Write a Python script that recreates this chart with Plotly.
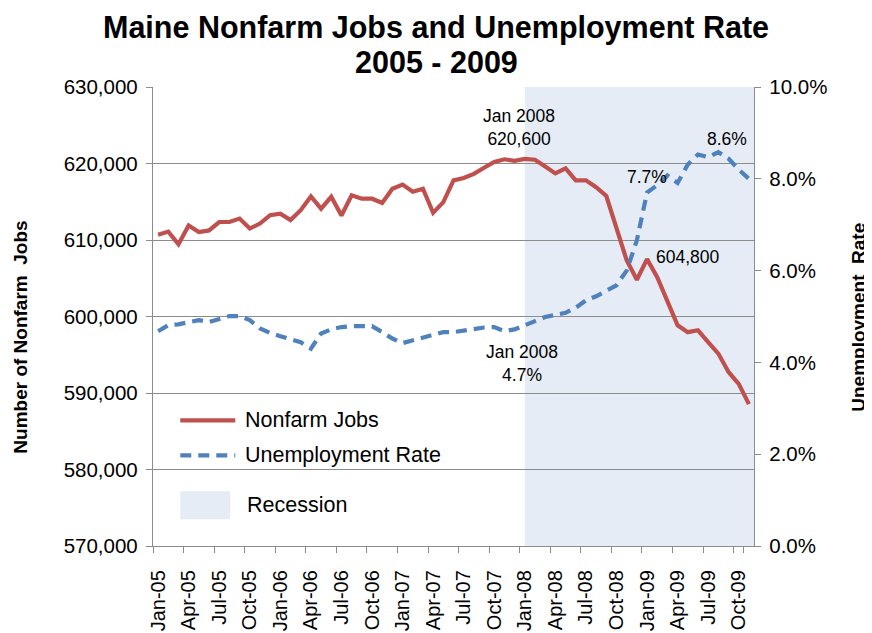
import plotly.graph_objects as go

months = ["Jan-05","Feb-05","Mar-05","Apr-05","May-05","Jun-05","Jul-05","Aug-05","Sep-05","Oct-05","Nov-05","Dec-05",
          "Jan-06","Feb-06","Mar-06","Apr-06","May-06","Jun-06","Jul-06","Aug-06","Sep-06","Oct-06","Nov-06","Dec-06",
          "Jan-07","Feb-07","Mar-07","Apr-07","May-07","Jun-07","Jul-07","Aug-07","Sep-07","Oct-07","Nov-07","Dec-07",
          "Jan-08","Feb-08","Mar-08","Apr-08","May-08","Jun-08","Jul-08","Aug-08","Sep-08","Oct-08","Nov-08","Dec-08",
          "Jan-09","Feb-09","Mar-09","Apr-09","May-09","Jun-09","Jul-09","Aug-09","Sep-09","Oct-09","Nov-09"]

nonfarm_jobs = [610700, 611100, 609450, 611900, 611050, 611250, 612350, 612350, 612800, 611500, 612150, 613250,
                613450, 612600, 613900, 615700, 614100, 615650, 613200, 615850, 615400, 615400, 614850, 616700,
                617250, 616300, 616700, 613550, 614950, 617800, 618100, 618650, 619450, 620200, 620550, 620350,
                620600, 620500, 619600, 618700, 619350, 617800, 617800, 616900, 615750, 611700, 607350, 604800,
                607500, 605150, 602100, 598850, 597950, 598200, 596650, 595150, 592750, 591200, 588550]

unemployment_rate = [4.68, 4.81, 4.83, 4.88, 4.92, 4.88, 4.95, 5.01, 5.01, 4.92, 4.74, 4.64,
                     4.57, 4.50, 4.44, 4.30, 4.63, 4.72, 4.77, 4.79, 4.79, 4.79, 4.66, 4.52,
                     4.42, 4.48, 4.55, 4.61, 4.66, 4.66, 4.70, 4.73, 4.76, 4.77, 4.68, 4.72,
                     4.82, 4.90, 4.99, 5.04, 5.08, 5.19, 5.35, 5.44, 5.55, 5.68, 6.00, 6.66,
                     7.70, 7.86, 8.07, 7.91, 8.31, 8.53, 8.47, 8.58, 8.44, 8.20, 8.00]

tick_labels = months[::3]
recession_start = "Jan-08"

RED = "#C0504D"
BLUE = "#4F81BD"
SHADE = "#E6ECF5"
GRID = "#8C8C8C"
FONT = "Liberation Sans, Arial, sans-serif"

PAGE_W, PAGE_H, OFF = 872, 633, 8          # page body margin offsets the figure by 8px
W, H = PAGE_W - OFF, PAGE_H - OFF
L, R, T, B = 152.7, 754.0, 86.7, 545.7      # plot area in page pixels

def px(x):
    return (x - L) / (R - L)

def py(y):
    return (B - y) / (B - T)

fig = go.Figure()
fig.add_trace(go.Scatter(x=months, y=nonfarm_jobs, mode="lines", name="Nonfarm Jobs",
                         line=dict(color=RED, width=4.2), yaxis="y"))
fig.add_trace(go.Scatter(x=months, y=unemployment_rate, mode="lines", name="Unemployment Rate",
                         line=dict(color=BLUE, width=4.2, dash="11px,7px"), yaxis="y2"))

rs = months.index(recession_start)
fig.add_shape(type="rect", xref="x", yref="paper", x0=rs, x1=len(months) - 0.5, y0=0, y1=1,
              fillcolor=SHADE, line=dict(width=0), layer="below")

# manual legend
fig.add_shape(type="line", xref="paper", yref="paper", x0=px(180), x1=px(235), y0=py(420), y1=py(420),
              line=dict(color=RED, width=4.2))
fig.add_shape(type="line", xref="paper", yref="paper", x0=px(180), x1=px(235), y0=py(455), y1=py(455),
              line=dict(color=BLUE, width=4.2, dash="11px,7px"))
fig.add_shape(type="rect", xref="paper", yref="paper", x0=px(180), x1=px(230), y0=py(519), y1=py(491),
              fillcolor=SHADE, line=dict(width=0))

ann = []
def text(x, y, s, size=17, bold=False, xanchor="center", angle=0, family=FONT):
    ann.append(dict(x=px(x), y=py(y), xref="paper", yref="paper", text=("<b>%s</b>" % s) if bold else s,
                    showarrow=False, xanchor=xanchor, yanchor="middle", textangle=angle,
                    font=dict(size=size, color="#000000", family=family)))

text(243, 420, "Nonfarm Jobs", size=21.5, xanchor="left")
text(243, 455, "Unemployment Rate", size=21.5, xanchor="left")
text(245, 505, "Recession", size=21.5, xanchor="left")

text(519, 127.5, "Jan 2008<br>620,600", size=17.5)
text(522, 363.5, "Jan 2008<br>4.7%", size=17.5)
text(647, 177, "7.7%", size=17.5)
text(727, 139, "8.6%", size=17.5)
text(688, 257, "604,800", size=17.5)

text(436, 27, "Maine Nonfarm Jobs and Unemployment Rate", size=30.5, bold=True)
text(436, 62, "2005 - 2009", size=30.5, bold=True)

text(20, 337, "Number of Nonfarm\u00a0\u00a0Jobs", size=19, bold=True, angle=-90)
text(859, 316.5, "Unemployment\u00a0\u00a0Rate", size=19, bold=True, angle=-90)

fig.update_layout(
    width=W, height=H,
    margin=dict(l=L - OFF, r=PAGE_W - R, t=T - OFF, b=PAGE_H - B, pad=0, autoexpand=False),
    paper_bgcolor="white", plot_bgcolor="white",
    showlegend=False,
    annotations=ann,
    font=dict(family=FONT, size=20, color="#000000"),
    xaxis=dict(type="category", categoryorder="array", categoryarray=months,
               range=[-0.5, len(months) - 0.5], automargin=False,
               tickmode="array", tickvals=tick_labels, ticktext=tick_labels,
               tickangle=-90, ticks="outside", ticklen=6, tickcolor=GRID, tickson="boundaries",
               showgrid=False, showline=True, linecolor=GRID, linewidth=1.3,
               tickfont=dict(size=20), zeroline=False, ticklabelstandoff=15),
    yaxis=dict(range=[570000, 630000], dtick=10000, tick0=570000, tickformat=",", automargin=False,
               showgrid=True, gridcolor=GRID, gridwidth=1.3,
               ticks="outside", ticklen=6, tickcolor=GRID,
               showline=True, linecolor=GRID, linewidth=1.3, zeroline=False,
               tickfont=dict(size=20.5), ticklabelstandoff=4),
    yaxis2=dict(range=[0, 10], dtick=2, tick0=0, tickformat=".1f", ticksuffix="%", automargin=False,
                overlaying="y", side="right", showgrid=False,
                ticks="outside", ticklen=6, tickcolor=GRID,
                showline=True, linecolor=GRID, linewidth=1.3, zeroline=False,
                tickfont=dict(size=20.5), ticklabelstandoff=4),
)

fig.write_html("out.html")
